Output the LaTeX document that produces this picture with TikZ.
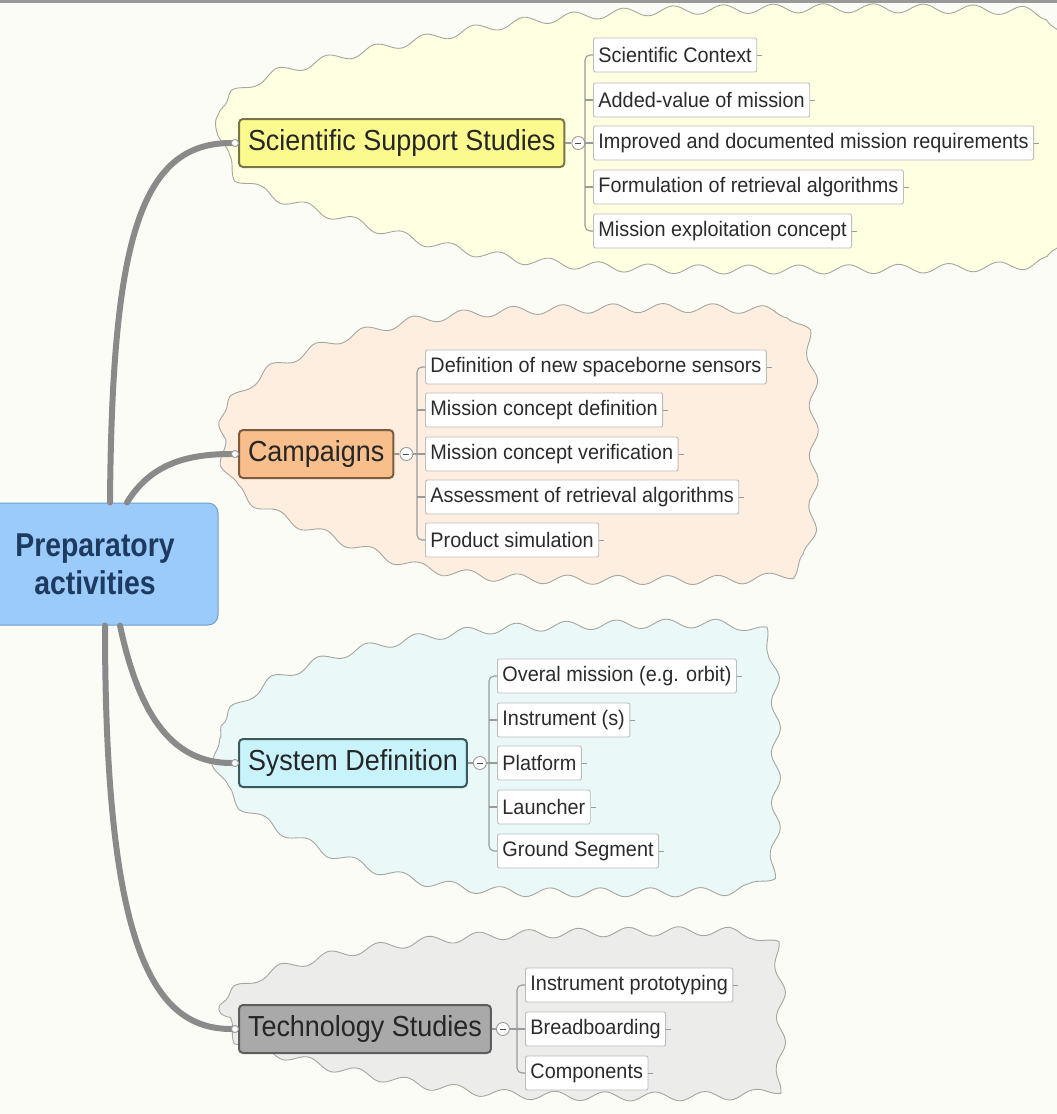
\documentclass[tikz,border=0pt]{standalone}
\usepackage{fontspec}
\setmainfont{Liberation Sans}
\newfontfamily\rootface[FakeStretch=0.86]{Liberation Sans}
\newfontfamily\kidface[FakeStretch=0.945]{Liberation Sans}
\newfontfamily\mainface[FakeStretch=0.93]{Liberation Sans}
\usetikzlibrary{decorations.pathmorphing,calc}
\definecolor{bgc}{HTML}{FCFCF6}
\definecolor{cloudline}{HTML}{A6A6A0}
\definecolor{ssscl}{HTML}{FFFFE1}
\definecolor{campcl}{HTML}{FDEEE0}
\definecolor{syscl}{HTML}{EAF8F8}
\definecolor{techcl}{HTML}{ECECEA}
\definecolor{sssfill}{HTML}{FAFA8F}
\definecolor{sssdraw}{HTML}{76764A}
\definecolor{campfill}{HTML}{F8BE8B}
\definecolor{campdraw}{HTML}{7D5B3E}
\definecolor{sysfill}{HTML}{C9F3FB}
\definecolor{sysdraw}{HTML}{3C5A5A}
\definecolor{techfill}{HTML}{A9A9A9}
\definecolor{techdraw}{HTML}{5E5E5E}
\definecolor{rootfill}{HTML}{9ACBFA}
\definecolor{rootdraw}{HTML}{6FA0D0}
\definecolor{roottext}{HTML}{1E3A5F}
\definecolor{kidline}{HTML}{BDBDBD}
\definecolor{kidtext}{HTML}{2B2B2B}
\definecolor{linkgray}{HTML}{8A8A8A}
\definecolor{brgray}{HTML}{9A9A9A}
\newcommand\kfont{\kidface\fontsize{21}{24}\selectfont}
\newcommand\mfont{\mainface\fontsize{29}{32}\selectfont}
\newcommand\rfont{\rootface\bfseries\fontsize{33}{38}\selectfont}
\tikzset{
  cloudshape/.style={draw=cloudline, line width=0.9pt, decorate,
    decoration={snake, segment length=50pt, amplitude=4.5pt}},
  mainbox/.style={draw, rounded corners=4pt, line width=2pt, minimum height=48pt,
    inner xsep=9pt, anchor=west, font=\mfont, text=black!85},
  kid/.style={draw=kidline, fill=white, rounded corners=2pt, line width=0.9pt,
    minimum height=34pt, inner xsep=5pt, anchor=west, font=\kfont, text=kidtext},
  mainlink/.style={draw=linkgray, line width=6pt, line cap=round},
  br/.style={draw=brgray, line width=1.1pt},
  stub/.style={draw=brgray, line width=1pt},
  enddot/.style={circle, draw=brgray, fill=white, line width=0.8pt, minimum size=7pt, inner sep=0pt},
  coll/.style={circle, draw=brgray, fill=white, line width=0.9pt, minimum size=13pt, inner sep=0pt,
    path picture={\draw[black!70, line width=0.8pt] ([xshift=-3pt]path picture bounding box.center) -- ([xshift=3pt]path picture bounding box.center);}}
}
\begin{document}
\begin{tikzpicture}[x=1pt,y=-1pt]
\useasboundingbox (0,0) rectangle (1057,1114);
\clip (0,0) rectangle (1057,1114);
\fill[bgc] (0,0) rectangle (1057,1114);
\fill[gray!80] (0,0) rectangle (1057,2.5);

% clouds
\path[cloudshape, fill=ssscl] plot[smooth cycle] coordinates {(213,143) (225,105) (262,84) (330,66) (420,47) (520,30) (640,20) (800,17) (960,18) (1038,24) (1055,62) (1057,143) (1056,230) (1040,266) (960,273) (800,275) (640,274) (520,266) (420,248) (330,222) (262,200) (225,178)};
\path[cloudshape, fill=campcl] plot[smooth cycle] coordinates {(213,454) (225,412) (262,380) (330,350) (410,330) (500,321) (620,318) (740,319) (790,328) (804,370) (806,450) (804,540) (790,578) (740,587) (620,588) (500,586) (410,575) (330,548) (262,520) (225,494)};
\path[cloudshape, fill=syscl] plot[smooth cycle] coordinates {(213,763) (225,722) (262,692) (330,665) (410,648) (500,638) (620,634) (720,634) (762,645) (772,690) (773,770) (772,860) (762,895) (720,905) (620,906) (500,905) (410,893) (330,868) (262,835) (225,805)};
\path[cloudshape, fill=techcl] plot[smooth cycle] coordinates {(213,1029) (226,1000) (262,980) (330,962) (410,950) (500,943) (620,940) (720,940) (762,950) (772,985) (773,1040) (772,1090) (762,1106) (720,1111) (620,1112) (500,1110) (410,1100) (330,1085) (262,1068) (226,1055)};

% root
\node[draw=rootdraw, fill=rootfill, rounded corners=10pt, line width=1pt, minimum width=246pt, minimum height=122pt, align=center, font=\rfont, text=roottext] (root) at (95,564) {Preparatory\\activities};

% main nodes
\node[mainbox, draw=sssdraw, fill=sssfill] (sss) at (238,143) {Scientific Support Studies};
\node[mainbox, draw=campdraw, fill=campfill] (camp) at (238,454) {Campaigns};
\node[mainbox, draw=sysdraw, fill=sysfill] (sys) at (238,763) {System Definition};
\node[mainbox, draw=techdraw, fill=techfill] (tech) at (238,1029) {Technology Studies};

% end dots
\node[enddot] (dsss) at ([xshift=-3pt]sss.west) {};
\node[enddot] (dcamp) at ([xshift=-3pt]camp.west) {};
\node[enddot] (dsys) at ([xshift=-3pt]sys.west) {};
\node[enddot] (dtech) at ([xshift=-3pt]tech.west) {};

% main links
\draw[mainlink] ([xshift=15pt]root.north) .. controls (112,240) and (140,143) .. (dsss.west);
\draw[mainlink] ([xshift=32pt]root.north) .. controls (150,465) and (185,454) .. (dcamp.west);
\draw[mainlink] ([xshift=25pt]root.south) .. controls (140,720) and (175,763) .. (dsys.west);
\draw[mainlink] ([xshift=10pt]root.south) .. controls (105,940) and (150,1029) .. (dtech.west);
\node[enddot] (esss) at (dsss) {};
\node[enddot] (ecamp) at (dcamp) {};
\node[enddot] (esys) at (dsys) {};
\node[enddot] (etech) at (dtech) {};

% SSS children
\node[kid] (s1) at (593,55) {Scientific Context};
\node[kid] (s2) at (593,100) {Added-value of mission};
\node[kid] (s3) at (593,143) {Improved and documented mission requirements};
\node[kid] (s4) at (593,187) {Formulation of retrieval algorithms};
\node[kid] (s5) at (593,231) {Mission exploitation concept};
\node[coll] (csss) at ([xshift=13pt]sss.east) {};
\draw[br] (sss.east) -- (csss.west);
\draw[br] (csss.east) -- (s3.west);
\draw[br, rounded corners=5pt] (s1.west) -- ([xshift=-8pt]s1.west) -- ([xshift=-8pt]s5.west) -- (s5.west);
\draw[br] ([xshift=-8pt]s2.west) -- (s2.west);
\draw[br] ([xshift=-8pt]s4.west) -- (s4.west);
\foreach \k in {s1,s2,s3,s4,s5} \draw[stub] (\k.east) -- ++(5,0);

% Campaign children
\node[kid] (c1) at (425,367) {Definition of new spaceborne sensors};
\node[kid] (c2) at (425,410) {Mission concept definition};
\node[kid] (c3) at (425,454) {Mission concept verification};
\node[kid] (c4) at (425,497) {Assessment of retrieval algorithms};
\node[kid] (c5) at (425,540) {Product simulation};
\node[coll] (ccamp) at ([xshift=12pt]camp.east) {};
\draw[br] (camp.east) -- (ccamp.west);
\draw[br] (ccamp.east) -- (c3.west);
\draw[br, rounded corners=5pt] (c1.west) -- ([xshift=-8pt]c1.west) -- ([xshift=-8pt]c5.west) -- (c5.west);
\draw[br] ([xshift=-8pt]c2.west) -- (c2.west);
\draw[br] ([xshift=-8pt]c4.west) -- (c4.west);
\foreach \k in {c1,c2,c3,c4,c5} \draw[stub] (\k.east) -- ++(5,0);

% System Definition children
\node[kid] (d1) at (497,676) {Overal mission (e.g. orbit)};
\node[kid] (d2) at (497,720) {Instrument (s)};
\node[kid] (d3) at (497,763) {Platform};
\node[kid] (d4) at (497,807) {Launcher};
\node[kid] (d5) at (497,851) {Ground Segment};
\node[coll] (csys) at ([xshift=12pt]sys.east) {};
\draw[br] (sys.east) -- (csys.west);
\draw[br] (csys.east) -- (d3.west);
\draw[br, rounded corners=5pt] (d1.west) -- ([xshift=-8pt]d1.west) -- ([xshift=-8pt]d5.west) -- (d5.west);
\draw[br] ([xshift=-8pt]d2.west) -- (d2.west);
\draw[br] ([xshift=-8pt]d4.west) -- (d4.west);
\foreach \k in {d1,d2,d3,d4,d5} \draw[stub] (\k.east) -- ++(5,0);

% Technology children
\node[kid] (t1) at (525,985) {Instrument prototyping};
\node[kid] (t2) at (525,1029) {Breadboarding};
\node[kid] (t3) at (525,1073) {Components};
\node[coll] (ctech) at ([xshift=11pt]tech.east) {};
\draw[br] (tech.east) -- (ctech.west);
\draw[br] (ctech.east) -- (t2.west);
\draw[br, rounded corners=5pt] (t1.west) -- ([xshift=-8pt]t1.west) -- ([xshift=-8pt]t3.west) -- (t3.west);
\foreach \k in {t1,t2,t3} \draw[stub] (\k.east) -- ++(5,0);
\end{tikzpicture}
\end{document}
